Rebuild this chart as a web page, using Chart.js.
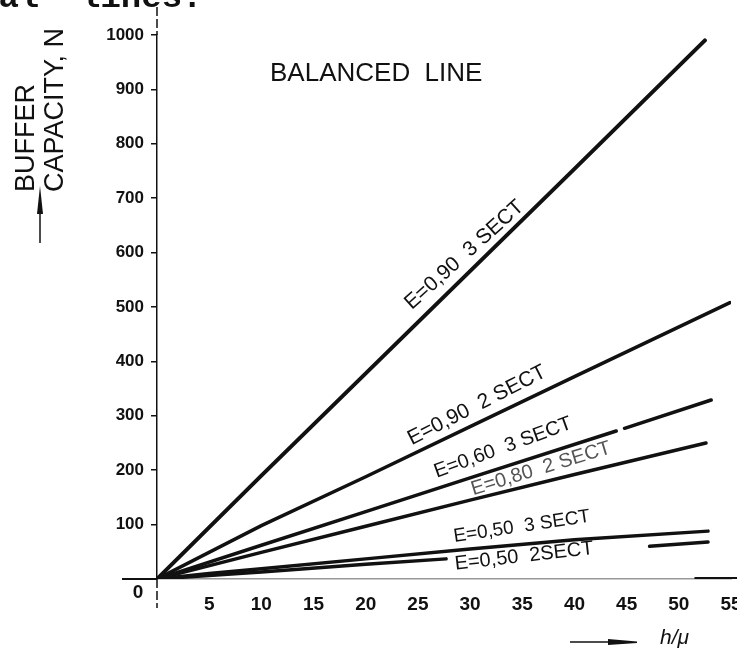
<!DOCTYPE html>
<html>
<head>
<meta charset="utf-8">
<script src="https://cdn.jsdelivr.net/npm/chart.js@4.4.1/dist/chart.umd.min.js"></script>
<style>
  html, body { margin: 0; padding: 0; background: #fff; }
  #wrap { width: 737px; height: 648px; }
</style>
</head>
<body>
<div id="wrap"><canvas id="bufferChart" width="737" height="648"></canvas></div>
<script>
// axis ranges (h/mu along x, buffer capacity N up y)
const xMax = 55;
const xStep = 5;
const yMax = 1000;
const yStep = 100;

// curve names, as lettered along each line
const curveNames = [
    'E=0,90  3 SECT',
    'E=0,90  2 SECT',
    'E=0,60  3 SECT',
    'E=0,80  2 SECT',
    'E=0,50  3 SECT',
    'E=0,50  2SECT'
];

// h/mu and N for every curve (null = break in the drawn line)
const e90s3X = [0, 10, 20, 30, 40, 52.5];
const e90s3N = [0, 190, 378, 566, 754, 990];

const e90s2X = [0, 10, 20, 30, 40, 54.9];
const e90s2N = [0, 98, 188, 280, 372, 508];

const e60s3X = [0, 10, 20, 30, 44, 44.4, 44.8, 53.1];
const e60s3N = [0, 62, 124, 186, 272, null, 277, 329];

const e80s2X = [0, 10, 20, 30, 40, 52.6];
const e80s2N = [0, 49, 97, 145, 192, 250];

const e50s3X = [0, 5, 10, 20, 30, 40, 52.8];
const e50s3N = [0, 10, 19, 37, 55, 72, 88];

const e50s2X = [0, 10, 20, 27.7, 37, 47.2, 52.8];
const e50s2N = [0, 13, 27, 37, null, 60, 68];

const curveX = [e90s3X, e90s2X, e60s3X, e80s2X, e50s3X, e50s2X];
const curveN = [e90s3N, e90s2N, e60s3N, e80s2N, e50s3N, e50s2N];

// where each name starts (in h/mu, N) and its slant in degrees
const nameAt = [
    [24.4, 494, -42],
    [24.4, 246, -27],
    [26.8, 186, -20],
    [30.3, 154, -17],
    [28.5, 68, -8.5],
    [28.6, 17, -6.5]
];
const nameFont = ['21px', '21px', '20px', '20px', '19px', '20px'];
const nameColor = ['#111', '#111', '#111', '#555', '#111', '#111'];
const lineWidths = [4, 3.5, 3.5, 3.5, 3.5, 3.5];

const datasets = curveNames.map((name, i) => ({
    label: name,
    data: curveX[i].map((x, j) => ({ x: x, y: curveN[i][j] })),
    borderColor: '#111',
    borderWidth: lineWidths[i],
    borderCapStyle: 'round',
    pointRadius: 0,
    tension: 0,
    spanGaps: false,
    fill: false
}));

const sans = '"Liberation Sans", Arial, sans-serif';

const annotate = {
    id: 'annotate',
    afterDraw(chart) {
        const ctx = chart.ctx;
        const xs = chart.scales.x;
        const ys = chart.scales.y;
        const x0 = xs.getPixelForValue(0);
        const y0 = ys.getPixelForValue(0);

        ctx.save();
        ctx.strokeStyle = '#111';
        ctx.fillStyle = '#111';

        // y axis runs past both ends of the scale
        ctx.lineWidth = 1.5;
        ctx.setLineDash([9, 3]);
        ctx.beginPath();
        ctx.moveTo(x0, ys.top - 28);
        ctx.lineTo(x0, ys.top);
        ctx.moveTo(x0, ys.bottom);
        ctx.lineTo(x0, ys.bottom + 29);
        ctx.stroke();
        ctx.setLineDash([]);

        // solid stubs of the x axis
        ctx.lineWidth = 2;
        ctx.beginPath();
        ctx.moveTo(x0 - 35, y0);
        ctx.lineTo(x0, y0);
        ctx.moveTo(xs.getPixelForValue(51.5), y0 - 1);
        ctx.lineTo(chart.width, y0 - 1);
        ctx.stroke();

        // shared origin label
        ctx.font = 'bold 19px ' + sans;
        ctx.textAlign = 'center';
        ctx.textBaseline = 'middle';
        ctx.fillText('0', x0 - 19, y0 + 14);

        // curve names along the lines
        ctx.textAlign = 'left';
        ctx.textBaseline = 'alphabetic';
        chart.data.datasets.forEach((ds, i) => {
            const a = nameAt[i];
            ctx.save();
            ctx.translate(xs.getPixelForValue(a[0]), ys.getPixelForValue(a[1]));
            ctx.rotate(a[2] * Math.PI / 180);
            ctx.font = nameFont[i] + ' ' + sans;
            ctx.fillStyle = nameColor[i];
            ctx.fillText(ds.label, 0, 0);
            ctx.restore();
        });

        // heading
        ctx.font = '26px ' + sans;
        ctx.textBaseline = 'middle';
        ctx.fillText('BALANCED  LINE', 270, 74);

        // y axis title, two lines read upwards
        ctx.textBaseline = 'alphabetic';
        ctx.font = '27px ' + sans;
        ctx.save();
        ctx.translate(34, 192);
        ctx.rotate(-Math.PI / 2);
        ctx.fillText('BUFFER', 0, 0);
        ctx.restore();
        ctx.save();
        ctx.translate(63, 192);
        ctx.rotate(-Math.PI / 2);
        ctx.fillText('CAPACITY, N', 0, 0);
        ctx.restore();

        // up arrow under the y title
        ctx.lineWidth = 1.5;
        ctx.beginPath();
        ctx.moveTo(40, 243);
        ctx.lineTo(40, 205);
        ctx.stroke();
        ctx.beginPath();
        ctx.moveTo(40, 186);
        ctx.lineTo(43, 214);
        ctx.lineTo(37, 214);
        ctx.closePath();
        ctx.fill();

        // right arrow and x axis title
        ctx.beginPath();
        ctx.moveTo(570, 642);
        ctx.lineTo(612, 642);
        ctx.stroke();
        ctx.beginPath();
        ctx.moveTo(608, 639);
        ctx.lineTo(637, 641.5);
        ctx.lineTo(637, 643);
        ctx.lineTo(608, 645);
        ctx.closePath();
        ctx.fill();
        ctx.font = 'italic 21px ' + sans;
        ctx.fillText('h/\u03bc', 660, 644);

        // last line of the text above, cut by the top edge
        ctx.font = 'bold 34px "Liberation Mono", monospace';
        ctx.fillText('ral  lines.', -22, 7);

        ctx.restore();
    }
};

new Chart(document.getElementById('bufferChart'), {
    type: 'line',
    data: { datasets: datasets },
    plugins: [annotate],
    options: {
        responsive: false,
        animation: false,
        devicePixelRatio: 1,
        layout: { padding: { left: 0, top: 35, right: 6, bottom: 0 } },
        plugins: {
            legend: { display: false },
            tooltip: { enabled: false }
        },
        scales: {
            x: {
                type: 'linear',
                min: 0,
                max: xMax,
                grid: { display: false },
                border: { display: true, color: '#999', width: 1.5, dash: [3, 5] },
                ticks: {
                    stepSize: xStep,
                    color: '#111',
                    padding: 6,
                    maxRotation: 0,
                    font: { family: sans, size: 19, weight: 'bold' },
                    callback: v => (v === 0 ? '' : v)
                },
                afterFit: s => { s.height = 69; s.paddingLeft = 0; s.paddingRight = 6; }
            },
            y: {
                min: 0,
                max: yMax,
                grid: {
                    display: true,
                    drawOnChartArea: false,
                    drawTicks: true,
                    tickLength: 6,
                    color: '#111',
                    lineWidth: 1.5
                },
                border: { display: true, color: '#111', width: 1.5, dash: [9, 3] },
                ticks: {
                    stepSize: yStep,
                    color: '#111',
                    padding: 7,
                    font: { family: sans, size: 17, weight: 'bold' },
                    callback: v => (v === 0 ? '' : v)
                },
                afterFit: s => { s.width = 157; s.paddingTop = 0; s.paddingBottom = 0; }
            }
        }
    }
});
</script>
</body>
</html>
